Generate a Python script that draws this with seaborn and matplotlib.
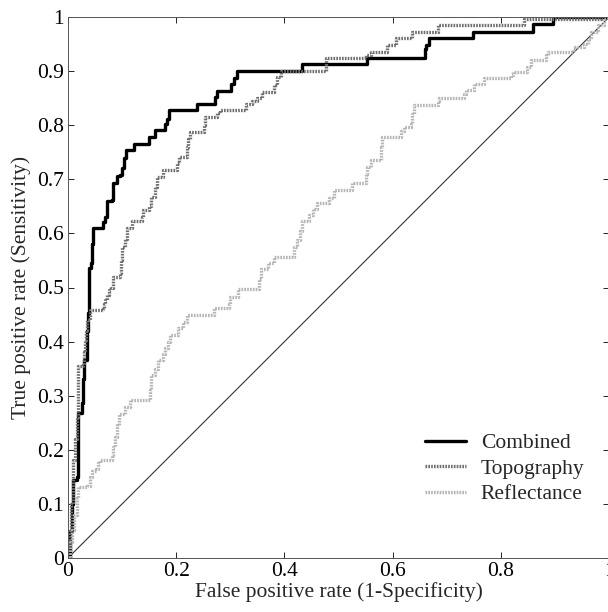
import numpy as np
import pandas as pd
import matplotlib
matplotlib.use("Agg")
import matplotlib.pyplot as plt
import seaborn as sns

# ---- data (step-post vertices) ----
combined_fpr = [0.0, 0.003, 0.007, 0.010, 0.016, 0.018, 0.019, 0.025, 0.028, 0.030, 0.035, 0.036,
                0.037, 0.038, 0.039, 0.043, 0.045, 0.046, 0.064, 0.069, 0.072, 0.081, 0.083, 0.090,
                0.096, 0.099, 0.104, 0.107, 0.122, 0.149, 0.161, 0.180, 0.183, 0.186, 0.238, 0.272,
                0.275, 0.301, 0.307, 0.312, 0.433, 0.552, 0.659, 0.662, 0.667, 0.749, 0.860, 0.896, 1.0]
combined_tpr = [0.0, 0.05, 0.10, 0.145, 0.15, 0.20, 0.268, 0.286, 0.33, 0.366, 0.372, 0.42,
                0.453, 0.50, 0.536, 0.545, 0.58, 0.610, 0.621, 0.630, 0.659, 0.662, 0.694, 0.706,
                0.708, 0.721, 0.74, 0.754, 0.766, 0.779, 0.791, 0.803, 0.812, 0.828, 0.839, 0.853,
                0.864, 0.876, 0.888, 0.901, 0.914, 0.925, 0.940, 0.948, 0.962, 0.973, 0.987, 1.0, 1.0]

topo_fpr = [0.0, 0.003, 0.006, 0.009, 0.010, 0.013, 0.016, 0.018, 0.019, 0.027, 0.029, 0.031,
            0.033, 0.036, 0.040, 0.065, 0.067, 0.069, 0.072, 0.075, 0.080, 0.083, 0.096, 0.098,
            0.100, 0.105, 0.109, 0.118, 0.136, 0.138, 0.150, 0.153, 0.160, 0.165, 0.176, 0.201,
            0.205, 0.220, 0.222, 0.225, 0.251, 0.253, 0.275, 0.280, 0.328, 0.340, 0.349, 0.359,
            0.380, 0.386, 0.393, 0.476, 0.550, 0.559, 0.589, 0.606, 0.636, 0.684, 0.842, 0.985, 1.0]
topo_tpr = [0.0, 0.05, 0.10, 0.15, 0.181, 0.22, 0.261, 0.30, 0.354, 0.357, 0.38, 0.403,
            0.421, 0.44, 0.458, 0.461, 0.47, 0.477, 0.486, 0.495, 0.50, 0.52, 0.527, 0.55,
            0.575, 0.59, 0.610, 0.622, 0.630, 0.643, 0.650, 0.668, 0.685, 0.705, 0.717, 0.730,
            0.742, 0.760, 0.775, 0.788, 0.800, 0.816, 0.822, 0.828, 0.840, 0.845, 0.850, 0.862,
            0.875, 0.890, 0.901, 0.924, 0.930, 0.936, 0.948, 0.961, 0.973, 0.985, 0.996, 1.0, 1.0]

refl_fpr = [0.0, 0.004, 0.008, 0.012, 0.016, 0.019, 0.035, 0.040, 0.044, 0.052, 0.056, 0.059,
            0.081, 0.084, 0.087, 0.090, 0.095, 0.105, 0.115, 0.152, 0.154, 0.160, 0.167, 0.175,
            0.180, 0.185, 0.189, 0.204, 0.212, 0.220, 0.269, 0.297, 0.300, 0.315, 0.352, 0.356,
            0.370, 0.380, 0.417, 0.423, 0.428, 0.433, 0.445, 0.452, 0.460, 0.482, 0.491, 0.525,
            0.550, 0.553, 0.559, 0.578, 0.581, 0.615, 0.621, 0.633, 0.636, 0.639, 0.683, 0.686,
            0.732, 0.735, 0.751, 0.769, 0.819, 0.822, 0.849, 0.856, 0.883, 0.886, 0.933, 0.936,
            0.954, 0.960, 0.967, 0.979, 0.990, 1.0]
refl_tpr = [0.0, 0.03, 0.052, 0.08, 0.11, 0.132, 0.133, 0.15, 0.160, 0.165, 0.175, 0.181,
            0.190, 0.205, 0.224, 0.245, 0.267, 0.280, 0.292, 0.310, 0.338, 0.350, 0.366, 0.378,
            0.388, 0.400, 0.412, 0.425, 0.437, 0.449, 0.462, 0.470, 0.483, 0.497, 0.515, 0.535,
            0.545, 0.557, 0.575, 0.588, 0.605, 0.622, 0.634, 0.645, 0.657, 0.665, 0.680, 0.694,
            0.710, 0.723, 0.736, 0.760, 0.779, 0.790, 0.797, 0.803, 0.820, 0.837, 0.845, 0.850,
            0.858, 0.865, 0.877, 0.887, 0.893, 0.899, 0.908, 0.921, 0.930, 0.936, 0.940, 0.945,
            0.951, 0.960, 0.973, 0.985, 1.0, 1.0]

chance_x = [0.0, 1.0]
chance_y = [0.0, 1.0]

series_names = ["Combined", "Topography", "Reflectance"]
x_ticks = [0, 0.2, 0.4, 0.6, 0.8, 1]
y_ticks = [0, 0.1, 0.2, 0.3, 0.4, 0.5, 0.6, 0.7, 0.8, 0.9, 1]

# ---- figure ----
sns.set_style("ticks")
plt.rcParams["font.family"] = ["Liberation Serif", "DejaVu Serif"]
FS = 15.5

fig = plt.figure(figsize=(6.08, 6.12), dpi=100)
ax = fig.add_axes([68 / 608, 1 - 558 / 612, 540 / 608 + 0.002, 541 / 612])

sns.lineplot(x=chance_x, y=chance_y, ax=ax, color="#333333", lw=0.8, estimator=None, sort=False)

styles = {
    "Combined": dict(color="black", lw=2.4, ls="-"),
    "Topography": dict(color="#6e6e6e", lw=2.4, ls=(0, (0.5, 0.35))),
    "Reflectance": dict(color="#b5b5b5", lw=2.4, ls=(0, (0.5, 0.35))),
}
data = {
    "Combined": (combined_fpr, combined_tpr),
    "Topography": (topo_fpr, topo_tpr),
    "Reflectance": (refl_fpr, refl_tpr),
}
for name in series_names:
    fx, ty = data[name]
    st = styles[name]
    sns.lineplot(x=fx, y=ty, ax=ax, color=st["color"], lw=st["lw"], linestyle=st["ls"],
                 drawstyle="steps-post", estimator=None, sort=False, label=name)

ax.set_xlim(0, 1)
ax.set_ylim(0, 1)
ax.set_xticks(x_ticks)
ax.set_yticks(y_ticks)
ax.set_xticklabels([f"{v:g}" for v in x_ticks], fontsize=FS)
ax.set_yticklabels([f"{v:g}" for v in y_ticks], fontsize=FS)
ax.tick_params(direction="in", top=True, right=True, length=4, width=0.6, pad=3, colors="black")
for s in ax.spines.values():
    s.set_linewidth(0.7)
    s.set_color("#555555")
ax.set_xlabel("False positive rate (1-Specificity)", fontsize=FS, labelpad=1)
ax.set_ylabel("True positive rate (Sensitivity)", fontsize=FS, labelpad=4)

leg = ax.legend(loc="lower right", bbox_to_anchor=(0.970, 0.083), frameon=False, fontsize=FS,
                handlelength=1.9, handletextpad=0.7, labelspacing=0.26, borderaxespad=0)

fig.savefig("out.png", dpi=100)
